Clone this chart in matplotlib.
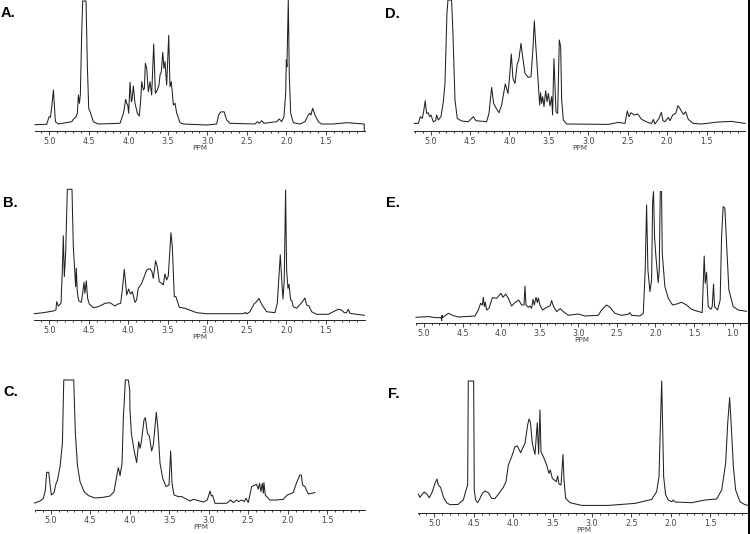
import matplotlib
matplotlib.use("Agg")
import matplotlib.pyplot as plt
from matplotlib.patches import Rectangle
from matplotlib.ticker import MultipleLocator

W, H = 750, 534

ppm_a = [5.181,5.034,5.004,4.987,4.970,4.949,4.924,4.886,4.717,4.696,4.662,4.646,4.633,4.620,4.608,4.591,4.578,4.536,4.519,4.502,4.477,4.443,4.380,4.105,4.063,4.051,4.034,4.021,4.008,3.996,3.979,3.962,3.954,3.937,3.916,3.886,3.861,3.844,3.831,3.810,3.797,3.785,3.768,3.747,3.726,3.705,3.679,3.658,3.633,3.612,3.599,3.582,3.565,3.549,3.536,3.515,3.489,3.473,3.456,3.430,3.409,3.388,3.371,3.346,3.304,3.008,2.882,2.857,2.831,2.789,2.755,2.713,2.397,2.367,2.342,2.312,2.283,2.122,2.089,2.059,2.030,2.008,2.000,1.992,1.975,1.962,1.945,1.911,1.827,1.764,1.722,1.700,1.688,1.667,1.637,1.595,1.553,1.405,1.236,1.013,1.013]
int_a = [6.3,6.7,14.3,13.7,24.3,41,9.3,7,9.3,11.7,14.3,17.7,36,27.7,36,97.7,130,130,64.3,22.7,17.7,9.3,7,7.7,17.7,22.7,31.7,27.7,26,17.7,48.7,29.3,31,45,27.7,17.7,15,31,49.3,41,42.7,67.7,62.7,39.3,49.3,36,87,37.7,41,46,56,59.3,78.7,62.7,69.3,46,95.7,44.3,49.3,26,27.7,17.7,14.3,8.3,7,6,7,16,19,19.3,11,7.7,7,9.3,7.7,10.3,7.7,9.3,12,9.3,14.3,37.7,71,64.3,131,54.3,17.7,8.3,7,9.3,16,17.7,16,22.7,16,9.3,7,7,8.3,7,0]

ppm_b = [5.190,5.076,4.949,4.916,4.907,4.886,4.852,4.835,4.823,4.810,4.793,4.772,4.713,4.696,4.679,4.667,4.658,4.646,4.629,4.595,4.578,4.561,4.549,4.532,4.515,4.494,4.443,4.380,4.295,4.232,4.169,4.139,4.097,4.076,4.051,4.034,4.021,3.996,3.971,3.949,3.916,3.895,3.874,3.831,3.802,3.768,3.726,3.701,3.684,3.654,3.633,3.608,3.574,3.557,3.536,3.515,3.494,3.460,3.443,3.418,3.397,3.355,3.283,3.135,3.009,2.544,2.515,2.502,2.460,2.409,2.376,2.346,2.312,2.249,2.144,2.114,2.076,2.055,2.042,2.026,2.009,1.996,1.979,1.966,1.945,1.929,1.912,1.870,1.806,1.764,1.743,1.713,1.680,1.616,1.469,1.405,1.342,1.300,1.266,1.237,1.215,1.194,1.110,1.013]
int_b = [6.3,7.3,9,10,18.3,14,16.7,50,84.3,43.3,66.7,130.7,130.7,73.3,50,33.3,51.7,28.3,19.3,17.7,26.7,37.7,26.7,39.3,21.7,16,12.3,13.3,16.7,17.3,14,15.7,16.7,30,50.7,36.7,25,31,26,28.3,17.7,20,31.7,36.7,42.7,50,51.3,48.3,41.7,59.3,53.3,38.3,36.7,35,46,40,44,87.3,73.3,23.3,23.3,12.7,11.7,7.3,6.3,6.3,7.7,6,8.3,16,18.3,21.7,15.7,8.3,7.3,16.7,65.3,36.7,21,40,130,50,31.7,35.7,20,19.3,13.3,11.7,17.3,22,15,14,8.3,5.7,5.7,8.3,10.7,10,7.3,7.3,10.7,6.7,5.7,4.7]

ppm_c = [5.203,5.135,5.093,5.068,5.051,5.025,5.008,4.992,4.958,4.932,4.916,4.882,4.852,4.835,4.709,4.688,4.662,4.629,4.578,4.523,4.439,4.333,4.249,4.198,4.165,4.144,4.122,4.097,4.080,4.072,4.055,4.017,4.000,3.996,3.979,3.945,3.912,3.886,3.869,3.852,3.819,3.802,3.776,3.751,3.722,3.701,3.663,3.641,3.616,3.582,3.540,3.502,3.481,3.464,3.439,3.384,3.342,3.236,3.194,3.131,3.068,3.017,2.983,2.966,2.950,2.920,2.772,2.722,2.688,2.646,2.620,2.583,2.549,2.528,2.498,2.456,2.393,2.372,2.355,2.338,2.321,2.308,2.300,2.283,2.224,2.140,2.055,2.004,1.929,1.886,1.844,1.827,1.810,1.781,1.739,1.654]
int_c = [7.3,9.3,12,20.3,38,38,25.3,15.3,17.7,27,29.7,43.7,67,130.3,130.3,77,45.3,28.7,18.7,14.7,12.3,13,14.3,18.7,33.7,42.7,34.7,47,93.7,103.7,130.3,130.3,120.3,100.3,77,60.3,47.7,68.7,62,68.7,90.3,92.7,77,74.3,59.3,65.3,98,80.3,47,32,23.7,25.3,59.3,27,15.3,13.7,13.7,9.3,11,9.7,8.3,10.3,19.3,14.3,15,7,7,10.3,7.7,10.3,8.7,10.3,8.7,12,7.7,23.7,26,21,27,18.7,27,17,27.7,15.3,10.3,10.3,11,15.3,17.7,27.7,35.3,35.3,25.3,23.7,16.3,17.7]

ppm_d = [5.207,5.156,5.131,5.106,5.089,5.068,5.051,5.030,5.013,4.996,4.966,4.937,4.924,4.903,4.869,4.839,4.818,4.793,4.780,4.734,4.717,4.691,4.662,4.607,4.522,4.480,4.459,4.425,4.290,4.260,4.226,4.201,4.167,4.133,4.099,4.074,4.053,4.019,4.002,3.977,3.956,3.930,3.901,3.884,3.854,3.833,3.803,3.761,3.727,3.702,3.685,3.668,3.643,3.617,3.605,3.592,3.579,3.562,3.541,3.524,3.507,3.486,3.465,3.453,3.436,3.410,3.389,3.368,3.351,3.338,3.317,3.275,2.746,2.620,2.535,2.506,2.484,2.459,2.417,2.374,2.324,2.239,2.197,2.176,2.155,2.104,2.074,2.053,2.028,1.985,1.964,1.930,1.892,1.863,1.838,1.816,1.791,1.766,1.732,1.668,1.563,1.351,1.182,1.013]
int_d = [7.3,7.3,14,12.3,19,30,17.3,18,14,15.7,9,10,15.7,10.7,14,29,47.3,117.3,130.7,130.7,97.3,30.7,12.3,9.7,9,12.3,14,10,9,17.3,43.3,27.3,22.3,18,25.7,37.3,46.7,37.3,50.7,76.7,52.3,47.3,67.3,69.7,87.3,74,57.3,53.3,54,82.3,110,87.3,57.3,25.7,38,27.3,34,24,40,29,37.3,24.7,34,15.7,72,19,17.3,90.7,84,30.7,10.7,6.7,6.3,8.3,7.3,19.7,14,18,15.7,16.7,11.3,8,7.3,11.3,6.7,12.3,18.3,10,9,13.3,10,15.7,17.3,25,22.3,19,16.3,19,11.3,7.3,6.7,8.7,9.3,7.3]

ppm_e = [5.104,4.944,4.857,4.780,4.771,4.767,4.758,4.685,4.620,4.555,4.339,4.296,4.266,4.244,4.231,4.218,4.205,4.188,4.158,4.114,4.058,4.002,3.976,3.942,3.907,3.864,3.821,3.773,3.734,3.704,3.691,3.678,3.648,3.626,3.605,3.587,3.570,3.548,3.531,3.518,3.497,3.462,3.410,3.367,3.345,3.332,3.315,3.281,3.233,3.194,3.129,3.000,2.913,2.741,2.697,2.633,2.589,2.525,2.438,2.352,2.330,2.309,2.201,2.157,2.132,2.114,2.097,2.071,2.049,2.036,2.024,2.011,1.993,1.963,1.950,1.937,1.920,1.911,1.877,1.833,1.777,1.725,1.661,1.596,1.531,1.466,1.393,1.367,1.354,1.337,1.315,1.280,1.263,1.246,1.233,1.194,1.160,1.142,1.121,1.099,1.077,1.047,0.991,0.926,0.818]
int_e = [6,6.7,5.7,5.7,2.7,8,5.7,10,7.7,6.3,7.3,13.3,20,18.3,26,16.7,21,13.3,15,25.7,25,30,26,29.3,25,17.3,20.7,23.3,18.3,18.3,37.3,18.3,16,17.3,15,24,18.3,26,20.7,25.3,18.3,13.3,16,17.3,22.7,19.3,16,11.7,14.7,11.7,8,9.3,7.3,8,13.3,18.3,16,10,8,9,10.7,8,7.3,10,53.3,118.3,53.3,31.7,43.3,121.7,131.7,86.7,66.7,40.7,53.3,131.7,131.7,70,36.7,25,18.3,19.3,21,18.3,14,12.3,10.7,67.3,40,51,16.7,14,16.7,39.3,16.7,13.3,23.3,86.7,116.7,115,80,33.3,16.7,13.3,12]

ppm_f = [5.203,5.182,5.152,5.127,5.097,5.063,5.025,4.992,4.966,4.949,4.920,4.886,4.844,4.801,4.696,4.662,4.632,4.603,4.577,4.569,4.501,4.493,4.476,4.450,4.421,4.391,4.357,4.315,4.273,4.230,4.180,4.125,4.091,4.061,4.019,3.977,3.947,3.905,3.871,3.850,3.816,3.799,3.782,3.757,3.723,3.694,3.677,3.660,3.647,3.617,3.575,3.546,3.529,3.503,3.478,3.453,3.436,3.419,3.393,3.368,3.355,3.334,3.279,3.131,2.793,2.455,2.243,2.180,2.150,2.133,2.116,2.104,2.091,2.066,2.032,1.990,1.969,1.947,1.736,1.567,1.419,1.355,1.305,1.279,1.254,1.233,1.207,1.178,1.123,1.060,0.996]
int_f = [18.7,15.3,18.7,20.7,18.7,15,21,29.3,33.7,27.7,25.3,16,10,8,8.3,11,12.7,21,27.7,131.7,131.7,22.7,12.7,10,14.3,19.3,21.7,20,14.3,14.3,19.3,25.3,31,47.7,56,66,66.7,60,66,69.3,87.7,93.7,91,69.3,58.3,90,58.7,102.7,61,56,47.7,39.3,42.7,34.3,32.7,31,36.7,28.7,27.7,58.3,32.7,14.3,10,7.3,7.3,9.3,13.3,21,36,86,131.7,86,36,17.7,12.7,11,12.7,10.7,10,12.7,13.7,22.7,49.3,89.3,115,86,46,22.7,11,8,7]

tick_ab = [5.0,4.5,4.0,3.5,3.0,2.5,2.0,1.5]
tick_e = [5.0,4.5,4.0,3.5,3.0,2.5,2.0,1.5,1.0]

panels = [
    ("A.", ppm_a, int_a, tick_ab, 5.186, 1.010, 34.7, 364.5, 131.0, 3.10, 1, 13),
    ("B.", ppm_b, int_b, tick_ab, 5.190, 1.010, 34.3, 364.5, 320.0, 3.10, 3, 203),
    ("C.", ppm_c, int_c, tick_ab, 5.203, 1.020, 34.7, 365.0, 510.3, 3.10, 3, 392),
    ("D.", ppm_d, int_d, tick_ab, 5.207, 1.013, 414.3, 745.0, 130.7, 3.11, 385, 14),
    ("E.", ppm_e, int_e, tick_e, 5.108, 0.816, 415.7, 746.7, 323.3, 2.95, 386, 203),
    ("F.", ppm_f, int_f, tick_ab, 5.203, 0.996, 418.3, 750.0, 512.7, 3.11, 388, 394),
]

fig = plt.figure(figsize=(W / 100, H / 100), dpi=100, facecolor="white")
INK = "#222222"
for name, ppm, inten, ticks, xl, xr, px0, px1, py, lab_ppm, tx, ty in panels:
    top = 133.0
    ax = fig.add_axes([px0 / W, 1 - py / H, (px1 - px0) / W, top / H])
    ax.patch.set_alpha(0)
    ax.plot(ppm, inten, color=INK, lw=0.75, solid_joinstyle="round", clip_on=False)
    ax.set_xlim(xl, xr)
    ax.set_ylim(0, top)
    for s in ("top", "left", "right"):
        ax.spines[s].set_visible(False)
    ax.spines["bottom"].set_linewidth(0.7)
    ax.spines["bottom"].set_color(INK)
    ax.set_yticks([])
    ax.set_xticks(ticks)
    ax.set_xticklabels([f"{t:.1f}" for t in ticks], fontsize=5.7, color="#444444")
    ax.xaxis.set_minor_locator(MultipleLocator(0.1))
    ax.tick_params(axis="x", which="major", length=3.0, width=0.6, pad=1.2, color=INK)
    ax.tick_params(axis="x", which="minor", length=1.6, width=0.6, color=INK)
    ax.set_xlabel("PPM", fontsize=5.2, color="#444444", labelpad=0)
    ax.xaxis.set_label_coords(lab_ppm, -17.0, transform=ax.transData)
    ax.xaxis.label.set_verticalalignment("center")
    fig.text(tx / W, 1 - ty / H, name, fontsize=10.5, fontweight="bold",
             family="Liberation Sans", color="black", va="center", ha="left")

fig.add_artist(Rectangle((748.2 / W, 0), 1.8 / W, 1, transform=fig.transFigure,
                         facecolor="black", edgecolor="none"))
fig.savefig("out.png", dpi=100, facecolor="white")
